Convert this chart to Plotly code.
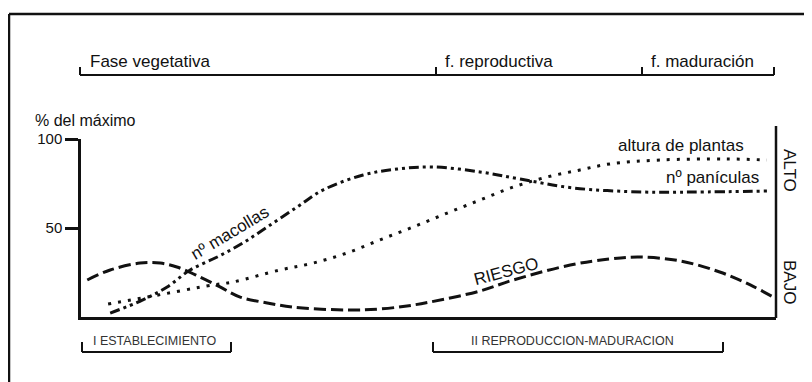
import plotly.graph_objects as go

# ---- data (x = relative time 0-100, y = % del máximo) ----
t_riesgo = [0.9, 4.2, 8.5, 11.4, 13.8, 17.1, 20.0, 22.9, 26.8, 30.5, 38.3, 43.0, 46.9, 50.2,
            57.4, 62.2, 70.4, 76.1, 80.4, 86.2, 91.9, 96.3, 99.6]
riesgo = [20.8, 26.4, 30.3, 30.3, 28.1, 22.5, 16.9, 11.2, 7.9, 5.6, 3.9, 4.5, 6.2, 8.4,
          14.6, 20.8, 29.2, 32.6, 33.7, 31.5, 25.3, 18.0, 11.2]

t_macollas = [4.2, 8.9, 12.4, 15.7, 19.6, 23.3, 26.8, 31.1, 34.8, 40.6, 45.5, 50.6, 57.4,
              63.2, 70.8, 80.9, 88.1, 99.1]
macollas = [2.2, 9.6, 16.9, 26.4, 33.7, 41.6, 50.6, 61.8, 71.3, 79.8, 83.1, 84.3, 81.5,
            77.5, 72.5, 70.2, 70.2, 70.8]

t_altura = [3.9, 9.5, 19.0, 21.9, 28.6, 33.4, 38.3, 43.0, 47.8, 52.7, 57.4, 62.2, 67.1,
            71.8, 76.1, 83.3, 92.9, 98.7]
altura = [7.3, 11.2, 18.0, 19.7, 26.4, 30.3, 36.0, 43.3, 50.6, 58.4, 65.7, 73.0, 78.7,
          82.6, 86.0, 88.2, 88.8, 88.2]

y_ticks = [50, 100]
y_ticklabels = ["50", "100"]

fases = ["Fase vegetativa", "f. reproductiva", "f. maduración"]
etapas = ["I ESTABLECIMIENTO", "II REPRODUCCION-MADURACION"]

# ---- layout geometry (page pixels; the page body has an 8px margin) ----
OFF = 8
W, H = 812, 382
L, R, T, B = 81, 776, 139, 317   # plot box in page pixels
FONT = "Liberation Sans, Arial, Helvetica, sans-serif"
INK = "#111111"


def X(px):
    return (px - L) / (R - L)


def Y(py):
    return (B - py) / (B - T)


fig = go.Figure()
fig.add_trace(go.Scatter(x=t_riesgo, y=riesgo, mode="lines", name="RIESGO",
                         line=dict(color=INK, width=3, dash="12px,5px", shape="spline")))
fig.add_trace(go.Scatter(x=t_macollas, y=macollas, mode="lines", name="nº macollas",
                         line=dict(color=INK, width=3, dash="10px,4px,3px,4px,3px,4px",
                                   shape="spline")))
fig.add_trace(go.Scatter(x=t_altura, y=altura, mode="lines", name="altura de plantas",
                         line=dict(color=INK, width=3, dash="3px,7px", shape="spline")))

shapes = []


def seg(x0, y0, x1, y1, w=2):
    shapes.append(dict(type="line", xref="paper", yref="paper",
                       x0=X(x0), y0=Y(y0), x1=X(x1), y1=Y(y1),
                       line=dict(color=INK, width=w)))


# outer frame (cut by the image on right and bottom)
seg(9, 14, 900, 14, 2.5)
seg(9, 14, 9, 450, 2.5)
# right axis
seg(776, 318, 776, 126, 2.5)
# top phase bracket
seg(80, 75, 774, 75, 2)
for px in (80, 436, 642, 774):
    seg(px, 75, px, 67, 2)
# bottom stage brackets
seg(82, 352, 231, 352, 2)
seg(82, 352, 82, 342, 2)
seg(231, 352, 231, 342, 2)
seg(433, 352, 723, 352, 2)
seg(433, 352, 433, 342, 2)
seg(723, 352, 723, 342, 2)

ann = []


def txt(s, px, py, size=17, anchor="center", angle=0, color=INK):
    ann.append(dict(text=s, xref="paper", yref="paper", x=X(px), y=Y(py),
                    xanchor=anchor, yanchor="middle", showarrow=False,
                    textangle=angle, font=dict(family=FONT, size=size, color=color)))


txt(fases[0], 88, 62, anchor="left")
txt(fases[1], 443, 62, anchor="left")
txt(fases[2], 649, 62, anchor="left")
txt("% del máximo", 33, 120, size=16, anchor="left")
txt("nº macollas", 229, 233, angle=-31)
txt("RIESGO", 506, 271, angle=-15)
txt("altura de plantas", 681, 145)
txt("nº panículas", 712, 177)
txt("ALTO", 790, 170, angle=90)
txt("BAJO", 790, 282, angle=90)
txt(etapas[0], 154, 341, size=12.5, color="#333333")
txt(etapas[1], 572, 341, size=12.5, color="#333333")

fig.update_layout(
    width=W, height=H,
    margin=dict(l=L - OFF, r=W - (R - OFF), t=T - OFF, b=H - (B - OFF)),
    paper_bgcolor="white", plot_bgcolor="white",
    showlegend=False,
    shapes=shapes, annotations=ann,
    xaxis=dict(range=[0, 100], showgrid=False, zeroline=False, showticklabels=False,
               ticks="", showline=True, linecolor=INK, linewidth=2.5, fixedrange=True),
    yaxis=dict(range=[0, 100], showgrid=False, zeroline=False, showline=True,
               linecolor=INK, linewidth=2.5, tickvals=y_ticks, ticktext=y_ticklabels,
               ticks="outside", ticklen=13, tickwidth=2.5, tickcolor=INK,
               tickfont=dict(family=FONT, size=15, color=INK), fixedrange=True),
)

fig.write_html("out.html")
